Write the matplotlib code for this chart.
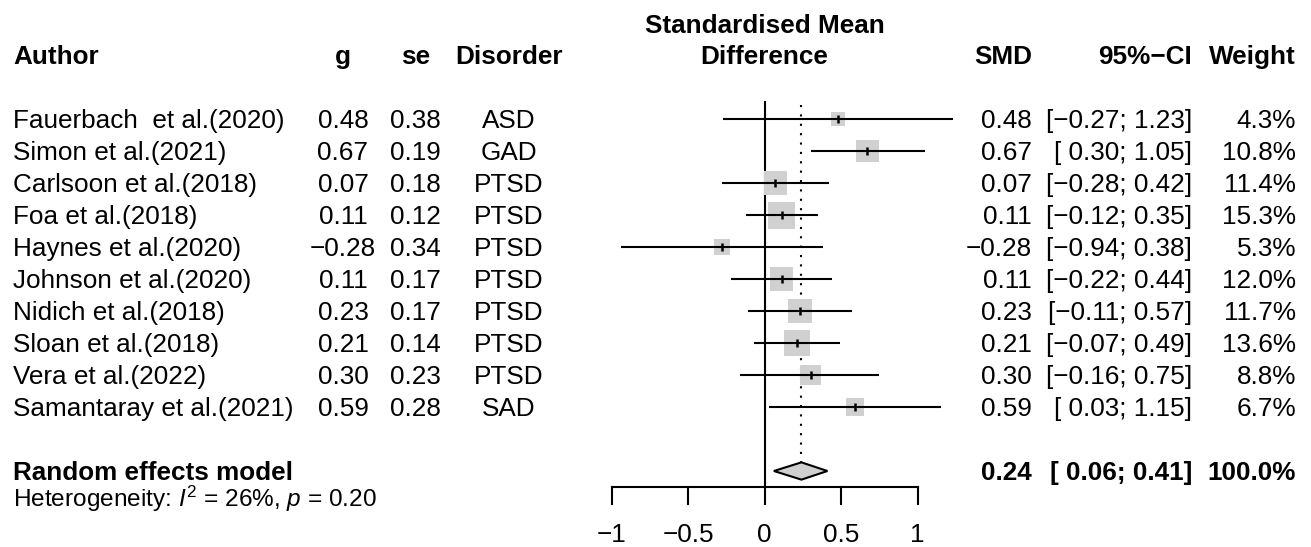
import matplotlib
matplotlib.use("Agg")
import matplotlib.pyplot as plt
from matplotlib.patches import Rectangle, Polygon
import matplotlib.transforms as mtransforms
import numpy as np

plt.rcParams['font.family'] = ['Liberation Sans', 'DejaVu Sans']
plt.rcParams['mathtext.fontset'] = 'custom'
plt.rcParams['mathtext.rm'] = 'Liberation Sans'
plt.rcParams['mathtext.it'] = 'Liberation Sans:italic'
plt.rcParams['mathtext.bf'] = 'Liberation Sans:bold'

# ---- data ----
authors = ["Fauerbach  et al.(2020)", "Simon et al.(2021)", "Carlsoon et al.(2018)",
           "Foa et al.(2018)", "Haynes et al.(2020)", "Johnson et al.(2020)",
           "Nidich et al.(2018)", "Sloan et al.(2018)", "Vera et al.(2022)",
           "Samantaray et al.(2021)"]
g_vals = [0.48, 0.67, 0.07, 0.11, -0.28, 0.11, 0.23, 0.21, 0.30, 0.59]
se_vals = [0.38, 0.19, 0.18, 0.12, 0.34, 0.17, 0.17, 0.14, 0.23, 0.28]
disorders = ["ASD", "GAD", "PTSD", "PTSD", "PTSD", "PTSD", "PTSD", "PTSD", "PTSD", "SAD"]
smd = [0.48, 0.67, 0.07, 0.11, -0.28, 0.11, 0.23, 0.21, 0.30, 0.59]
ci_lo = [-0.27, 0.30, -0.28, -0.12, -0.94, -0.22, -0.11, -0.07, -0.16, 0.03]
ci_hi = [1.23, 1.05, 0.42, 0.35, 0.38, 0.44, 0.57, 0.49, 0.75, 1.15]
weights = [4.3, 10.8, 11.4, 15.3, 5.3, 12.0, 11.7, 13.6, 8.8, 6.7]
pooled_est, pooled_lo, pooled_hi, pooled_w = 0.24, 0.06, 0.41, 100.0
heterogeneity_I2, heterogeneity_p = 26, 0.20
x_ticks = [-1, -0.5, 0, 0.5, 1]
x_ticklabels = ["\u22121", "\u22120.5", "0", "0.5", "1"]

# ---- layout ----
W, H = 1311, 547
fig = plt.figure(figsize=(W / 100, H / 100), dpi=100)
ax = fig.add_axes([0, 0, 1, 1])
ax.axis('off')
x0_px, scale_px = 764.7, 153.0
row0_px, row_px = 55.0, 32.0
ax.set_xlim((0 - x0_px) / scale_px, (W - x0_px) / scale_px)
ax.set_ylim((H - row0_px) / row_px, (0 - row0_px) / row_px)

tr = mtransforms.blended_transform_factory(fig.transFigure, ax.transData)
FS = 18.8
TY = 0.06  # small text offset
LW = 1.5
def fx(px):
    return px / W

def fmt(v):
    s = f"{v:.2f}"
    return s.replace("-", "\u2212")

def fmt_ci(lo, hi):
    a = fmt(lo) if lo < 0 else " " + fmt(lo)
    return f"[{a}; {fmt(hi)}]"

# headers
hy = 0 + TY
ax.text(fx(13), hy, "Author", transform=tr, ha='left', va='center', fontsize=FS, fontweight='bold')
ax.text(fx(343), hy, "g", transform=tr, ha='center', va='center', fontsize=FS, fontweight='bold')
ax.text(fx(415.5), hy, "se", transform=tr, ha='center', va='center', fontsize=FS, fontweight='bold')
ax.text(fx(509), hy, "Disorder", transform=tr, ha='center', va='center', fontsize=FS, fontweight='bold')
ax.text(fx(764.5), hy - 0.97, "Standardised Mean", transform=tr, ha='center', va='center', fontsize=FS, fontweight='bold')
ax.text(fx(764.5), hy, "Difference", transform=tr, ha='center', va='center', fontsize=FS, fontweight='bold')
ax.text(fx(1032), hy, "SMD", transform=tr, ha='right', va='center', fontsize=FS, fontweight='bold')
ax.text(fx(1192), hy, "95%\u2212CI", transform=tr, ha='right', va='center', fontsize=FS, fontweight='bold')
ax.text(fx(1296), hy, "Weight", transform=tr, ha='right', va='center', fontsize=FS, fontweight='bold')

rows = np.arange(len(authors)) + 2
max_box_px = 27.0
ref_w = max(weights)
for i, y in enumerate(rows):
    ty = y + TY
    ax.text(fx(13), ty, authors[i], transform=tr, ha='left', va='center', fontsize=FS)
    ax.text(fx(343), ty, fmt(g_vals[i]), transform=tr, ha='center', va='center', fontsize=FS)
    ax.text(fx(415.5), ty, fmt(se_vals[i]), transform=tr, ha='center', va='center', fontsize=FS)
    ax.text(fx(509), ty, disorders[i], transform=tr, ha='center', va='center', fontsize=FS)
    ax.text(fx(1032), ty, fmt(smd[i]), transform=tr, ha='right', va='center', fontsize=FS)
    ax.text(fx(1192), ty, fmt_ci(ci_lo[i], ci_hi[i]), transform=tr, ha='right', va='center', fontsize=FS)
    ax.text(fx(1296), ty, f"{weights[i]:.1f}%", transform=tr, ha='right', va='center', fontsize=FS)
    # box
    side = max_box_px * np.sqrt(weights[i] / ref_w)
    bw, bh = side / scale_px, side / row_px
    ax.add_patch(Rectangle((smd[i] - bw / 2, y - bh / 2), bw, bh, facecolor='#d0d0d0',
                           edgecolor='none', zorder=2))
    ax.plot([ci_lo[i], ci_hi[i]], [y, y], color='black', lw=LW, zorder=3, solid_capstyle='butt')
    ax.plot([smd[i], smd[i]], [y - 0.13, y + 0.13], color='black', lw=1.8, zorder=4, solid_capstyle='butt')

# pooled
py = 13
ax.text(fx(13), py + TY, "Random effects model", transform=tr, ha='left', va='center', fontsize=FS, fontweight='bold')
ax.text(fx(1032), py + TY, fmt(pooled_est), transform=tr, ha='right', va='center', fontsize=FS, fontweight='bold')
ax.text(fx(1192), py + TY, fmt_ci(pooled_lo, pooled_hi), transform=tr, ha='right', va='center', fontsize=FS, fontweight='bold')
ax.text(fx(1296), py + TY, f"{pooled_w:.1f}%", transform=tr, ha='right', va='center', fontsize=FS, fontweight='bold')
dh = 0.27
ax.add_patch(Polygon([[pooled_lo, py], [pooled_est, py - dh], [pooled_hi, py], [pooled_est, py + dh]],
                     closed=True, facecolor='#d0d0d0', edgecolor='black', lw=LW, zorder=3))
ax.text(fx(13), 13.88, f"Heterogeneity: $I^2$ = {heterogeneity_I2}%, $p$ = {heterogeneity_p:.2f}",
        transform=tr, ha='left', va='center', fontsize=17.6)

# reference lines
ax.plot([0, 0], [1.47, 13.5], color='black', lw=LW, zorder=1)
ax.plot([pooled_est, pooled_est], [1.55, py - dh], color='black', lw=LW, ls=(0, (1, 3.5)), zorder=1)

# axis
ax.plot([x_ticks[0], x_ticks[-1]], [13.5, 13.5], color='black', lw=LW)
for t, lab in zip(x_ticks, x_ticklabels):
    ax.plot([t, t], [13.5, 14.03], color='black', lw=LW)
    ax.text(t, 14.94 + TY, lab, ha='center', va='center', fontsize=FS)

fig.savefig("out.png", dpi=100)
